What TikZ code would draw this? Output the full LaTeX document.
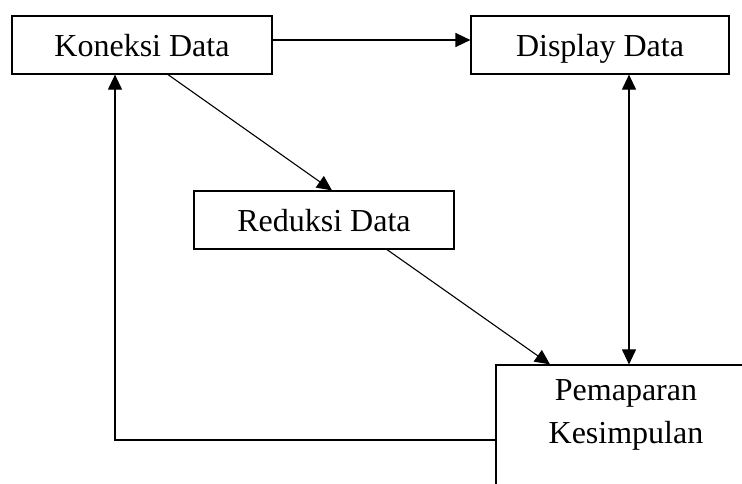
\documentclass[tikz,border=0pt]{standalone}
\usepackage{fontspec}
\setmainfont{Liberation Serif}
\usetikzlibrary{arrows.meta,calc}
\tikzset{
  stagebox/.style={draw, line width=1.2pt, rectangle, minimum width=260pt, minimum height=58pt,
    inner sep=0pt, text height=27pt, text depth=5pt, font=\fontsize{32}{38}\selectfont},
  arr/.style={line width=1.1pt, -{Triangle[length=15pt,width=14pt]}},
  darr/.style={line width=1.1pt, {Triangle[length=15pt,width=14pt]}-{Triangle[length=15pt,width=14pt]}},
}
\begin{document}
\begin{tikzpicture}[x=1pt,y=-1pt]
  \useasboundingbox (0,0) rectangle (742,483);
  \clip (0,0) rectangle (742,483);

  % stages of the analysis
  \node[stagebox] (kon) at (142,45) {Koneksi Data};
  \node[stagebox, minimum width=258pt] (dis) at (600,45) {Display Data};
  \node[stagebox] (red) at (324,220) {Reduksi Data};
  \node[draw, line width=1.2pt, rectangle, minimum width=260pt, minimum height=150pt] (pem) at (626,440) {};
  \node[font=\fontsize{32}{43}\selectfont, align=center] (pemtext) at (626,415) {Pemaparan\\Kesimpulan};

  % connectors
  \draw[arr, line width=1.6pt] ([yshift=5pt]kon.east) -- ([yshift=5pt]dis.west);
  \draw[arr] ([xshift=26pt]kon.south) -- ([xshift=8pt]red.north);
  \draw[arr] ([xshift=63pt]red.south) -- ([xshift=-76pt]pem.north);
  \draw[darr] ([xshift=29pt]dis.south) -- ([xshift=29pt]dis.south |- pem.north);
  \draw[arr] (pem.west) -| ([xshift=-27pt]kon.south);
\end{tikzpicture}
\end{document}
